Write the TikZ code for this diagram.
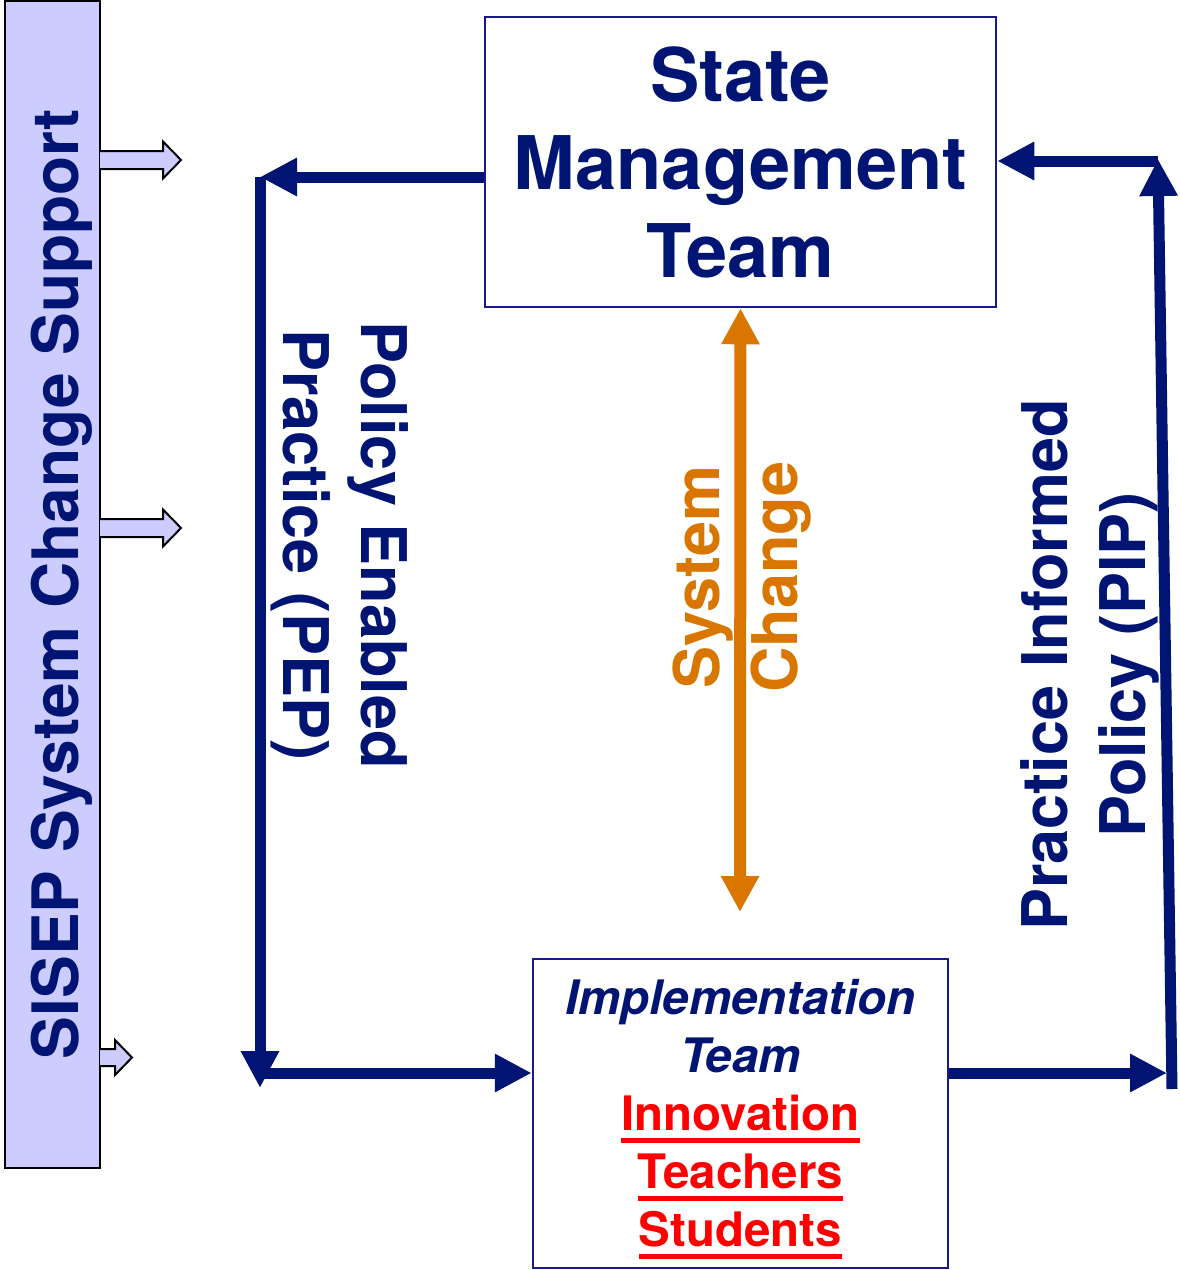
\documentclass[tikz,border=0pt]{standalone}
\usepackage{fontspec}
\setmainfont{TeX Gyre Heros}
\usetikzlibrary{arrows.meta}
\definecolor{navyblue}{RGB}{0,20,115}
\definecolor{boxblue}{RGB}{25,25,140}
\definecolor{changeorange}{RGB}{217,118,0}
\definecolor{barlilac}{RGB}{204,204,255}
\newcommand{\redunder}[1]{\setbox0\hbox{#1}\rlap{\rule[-12pt]{\wd0}{4.5pt}}\box0}
\begin{document}
\begin{tikzpicture}[x=1pt,y=-1pt,
  teambox/.style={draw=boxblue, line width=2.5pt, inner sep=0pt, align=center, text=navyblue},
  flow/.style={draw=navyblue, line width=11pt, -{Triangle[length=37pt,width=36pt]}},
  looplabel/.style={align=center, font=\bfseries\fontsize{63}{78}\selectfont},
  hollow/.style={draw=black, line width=2pt, fill=barlilac}]
  \useasboundingbox (0,0) rectangle (1180,1270);
  %
  % support bar
  \node[draw=black, line width=2.5pt, fill=barlilac, minimum width=95pt, minimum height=1167pt, inner sep=0pt]
    (sisep) at (52.5,584.5) {};
  \node[rotate=90, anchor=base, text=navyblue, font=\bfseries\fontsize{64}{78}\selectfont]
    (sisepLabel) at (78,584) {SISEP System Change Support};
  \foreach \ya in {160,528} {
    \draw[hollow] (100,\ya) ++(0,-9) -- ++(63,0) -- ++(0,-9.5) -- ++(18,18.5) -- ++(-18,18.5) -- ++(0,-9.5) -- ++(-63,0);
  }
  \draw[hollow] (100,1057.5) ++(0,-8.5) -- ++(15,0) -- ++(0,-9) -- ++(17,17.5) -- ++(-17,17.5) -- ++(0,-9) -- ++(-15,0);
  %
  % teams
  \node[teambox, minimum width=511pt, minimum height=290pt, font=\bfseries\fontsize{74}{88}\selectfont]
    (smt) at (740.5,162) {State\\Management\\Team};
  \node[teambox, minimum width=415pt, minimum height=309pt, font=\bfseries\fontsize{47.5}{58}\selectfont]
    (impl) at (740.5,1113.5) {\rule{0pt}{46pt}\textit{Implementation}\\\textit{Team}\\
      \textcolor{red}{\redunder{Innovation}}\\\textcolor{red}{\redunder{Teachers}}\\\textcolor{red}{\redunder{Students}}};
  %
  % loop corners
  \coordinate (pepTop) at (260,177);
  \coordinate (pepBot) at (260,1088);
  \coordinate (pepIn) at (260,1073);
  \coordinate (pipOut) at (1167,1073);
  \coordinate (pipBot) at (1172,1089);
  \coordinate (pipTop) at (1158,159);
  \coordinate (pipIn) at (1158,161);
  \coordinate (sysBot) at (740,912);
  %
  \draw[flow] (smt.west |- pepTop) -- (pepTop);
  \draw[flow] (pepTop) -- (pepBot);
  \draw[flow] (pepIn) -- (impl.west |- pepIn);
  \draw[flow] (impl.east |- pipOut) -- (pipOut);
  \draw[flow] (pipBot) -- (pipTop);
  \draw[flow] (pipIn) -- (smt.east |- pipIn);
  \draw[draw=changeorange, line width=12pt, {Triangle[length=36pt,width=36pt]}-{Triangle[length=36pt,width=36pt]}]
    (smt.south) -- (sysBot);
  %
  % loop labels
  \node[looplabel, rotate=-90, text=navyblue] (pep) at (340,545) {Policy Enabled\\Practice (PEP)};
  \node[looplabel, rotate=90, text=navyblue] (pip) at (1090,665) {Practice Informed\\Policy (PIP)};
  \node[looplabel, rotate=90, text=changeorange] (sysChange) at (742,577) {System\\Change};
\end{tikzpicture}
\end{document}
